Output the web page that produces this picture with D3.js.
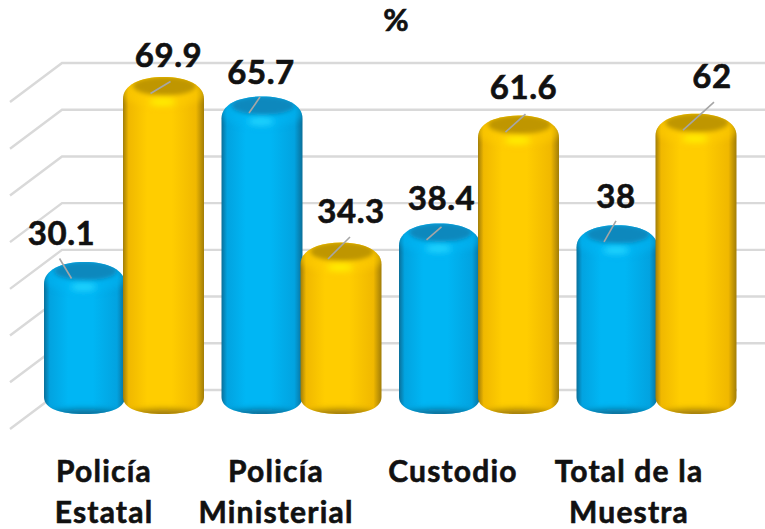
<!DOCTYPE html>
<html><head><meta charset="utf-8">
<script src="https://cdn.jsdelivr.net/npm/d3@7"></script>
<style>html,body{margin:0;padding:0;background:#fff}svg{display:block}text{font-family:Lato,"Liberation Sans",sans-serif;font-weight:700;fill:#111;stroke:#111;stroke-width:.6px}</style>
</head><body><svg id="c" width="765" height="529"></svg>
<script>
const categories = [["Policía","Estatal"],["Policía","Ministerial"],["Custodio"],["Total de la","Muestra"]];
const seriesA = [30.1, 65.7, 38.4, 38];
const seriesB = [69.9, 34.3, 61.6, 62];
const gridValues = [0,10,20,30,40,50,60,70];
const title = "%";

const svg = d3.select("#c");
const defs = svg.append("defs");
const W=765;
const catKeys = categories.map((d,i)=>i);
const x = d3.scaleBand().domain(catKeys).range([44,754]).paddingInner(0).paddingOuter(0);
const barW = 81;
const inner = d3.scaleOrdinal().domain(["a","b"]).range([0,79]);
const yBar = d3.scaleLinear().domain([0,70]).range([416,90.5]);
const yGrid = d3.scaleLinear().domain([0,70]).range([390,63]);
const floorBottom = 414;

// gridlines
const depthX=-52, depthY=39, backX=62;
const g = svg.append("g").attr("stroke","#d9d9d9").attr("stroke-width",2.4).attr("fill","none");
g.selectAll("path").data(gridValues).join("path")
 .attr("d",d=>`M${backX+depthX},${yGrid(d)+depthY}L${backX},${yGrid(d)}L${d===0?737:W},${yGrid(d)}`);

// defs
const palette = {
 a:{edge:"#0a6f99",mid:"#02a3e0",core:"#00b6f4",cap:"#0988bd",hi:"#25d8ff",low:"#0a6f99"},
 b:{edge:"#a17d08",mid:"#f0b800",core:"#ffcd00",cap:"#bf9600",hi:"#fff200",low:"#a17d08"}
};
Object.entries(palette).forEach(([k,p])=>{
 const lg=defs.append("linearGradient").attr("id","body"+k);
 [[0,p.edge],[.07,p.mid],[.3,p.core],[.6,p.core],[.9,p.mid],[1,p.edge]].forEach(s=>lg.append("stop").attr("offset",s[0]).attr("stop-color",s[1]));
});
const mk=(id,sd)=>defs.append("filter").attr("id",id).attr("x","-40%").attr("y","-80%").attr("width","180%").attr("height","260%").append("feGaussianBlur").attr("stdDeviation",sd);
mk("b2",2); mk("b4",3); mk("b6",3);

function cyl(x0,ty,w,yb){
 const cx=x0+w/2,x1=x0+w;
 return `M${x0},${yb-17}L${x0},${ty+22}C${x0},${ty+8} ${x0+17},${ty} ${cx},${ty}C${x1-17},${ty} ${x1},${ty+8} ${x1},${ty+22}L${x1},${yb-17}C${x1},${yb-5} ${x1-17},${yb} ${cx},${yb}C${x0+17},${yb} ${x0},${yb-5} ${x0},${yb-17}Z`;
}
const bars=[];
seriesA.forEach((v,i)=>bars.push({k:"a",i,v}));
seriesB.forEach((v,i)=>bars.push({k:"b",i,v}));
const shoulder = 14;
const marks = svg.selectAll("g.bar").data(bars).join("g").attr("class","bar");
marks.each(function(d,n){
 const s=d3.select(this), p=palette[d.k];
 const x0=x(d.i)+inner(d.k), ty=yBar(d.v)-shoulder, cx=x0+barW/2;
 const shape=cyl(x0,ty,barW,floorBottom);
 const id="clip"+n;
 defs.append("clipPath").attr("id",id).append("path").attr("d",shape);
 s.append("path").attr("d",shape).attr("fill",`url(#body${d.k})`);
 const c=s.append("g").attr("clip-path",`url(#${id})`);
 // bottom shade
 c.append("ellipse").attr("cx",cx).attr("cy",floorBottom+6).attr("rx",barW/2+6).attr("ry",11).attr("fill",p.low).attr("filter","url(#b6)");
 // rim light band
 c.append("ellipse").attr("cx",cx).attr("cy",ty+16).attr("rx",barW/2+2).attr("ry",14).attr("fill",p.core).attr("filter","url(#b4)").attr("opacity",.55);
 // top cap
 c.append("ellipse").attr("cx",cx+1).attr("cy",ty+9).attr("rx",barW/2-9).attr("ry",9.5).attr("fill",p.cap).attr("filter","url(#b2)");
 // highlight
 c.append("ellipse").attr("cx",cx-1).attr("cy",ty+25).attr("rx",13).attr("ry",3.5).attr("fill",p.hi).attr("filter","url(#b4)");
});

// leader lines and labels: offsets are label placement relative to each bar's cap
const labelDX = {a:[-23,-1,2,-1], b:[5,10,5,16]};
const labelBase = {a:[-31,-26,-27,-31], b:[-24,-34,-31,-40]};
const leadEnd = {a:[[-12,-20],[11,-16],[15,-13],[12,-21]], b:[[20,-12],[22,-22],[20,-18],[31,-28]]};
const leaders = svg.append("g").attr("stroke","#a6a6a6").attr("stroke-width",1.6);
const labels = svg.append("g").attr("text-anchor","middle").attr("font-size",33).attr("letter-spacing",.6);
bars.forEach(d=>{
 const cx=x(d.i)+inner(d.k)+barW/2, cy=yBar(d.v);
 const sx=cx-13, sy=cy+2.5, e=leadEnd[d.k][d.i];
 leaders.append("line").attr("x1",sx).attr("y1",sy).attr("x2",sx+e[0]).attr("y2",sy+e[1]);
 labels.append("text").attr("x",cx+labelDX[d.k][d.i]).attr("y",cy+labelBase[d.k][d.i]).text(d.v);
});

// category labels
const catG=svg.append("g").attr("text-anchor","middle").attr("font-size",30).attr("letter-spacing",1.2);
const catCenters=[104,276,453,629];
categories.forEach((lines,i)=>{
 lines.forEach((t,j)=>catG.append("text").attr("x",catCenters[i]).attr("y",482+j*41).text(t));
});
svg.append("text").attr("x",396).attr("y",31).attr("text-anchor","middle").attr("font-size",31).text(title);
</script></body></html>
